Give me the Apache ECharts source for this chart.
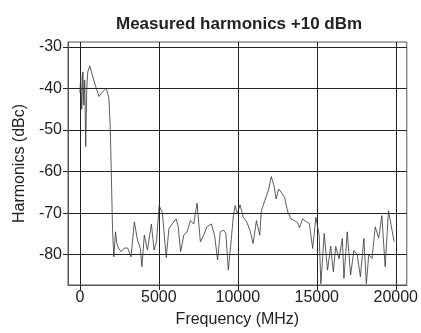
<!DOCTYPE html>
<html>
<head>
<meta charset="utf-8">
<script src="https://cdn.jsdelivr.net/npm/echarts@6/dist/echarts.min.js"></script>
<style>
  html, body { margin: 0; padding: 0; background: #fff; }
  #chart { width: 421px; height: 333px; }
</style>
</head>
<body>
<div id="chart"></div>
<script>
// measured trace
var freqs = [
  0, 60, 120, 190, 250, 310, 370, 440, 500, 630, 810, 1000, 1210, 1460, 1670, 1840, 1920, 1990, 2070,
  2150, 2260, 2340, 2460, 2620, 2820, 3030, 3240, 3450, 3650, 3830, 3930, 4080, 4280, 4530, 4700, 4850,
  5020, 5220, 5470, 5640, 5850, 6100, 6230, 6380, 6580, 6790, 7000, 7210, 7420, 7630, 7840, 8040, 8320,
  8530, 8720, 8890, 9090, 9240, 9400, 9570, 9720, 9830, 9970, 10140, 10350, 10550, 10770, 10970, 11180,
  11390, 11490, 11710, 11810, 11960, 12120, 12290, 12430, 12580, 12750, 12960, 13170, 13370, 13590,
  13790, 13900, 14110, 14310, 14530, 14740, 14940, 15150, 15260, 15470, 15680, 15880, 16050, 16200,
  16410, 16620, 16720, 16930, 17140, 17350, 17560, 17760, 17980, 18140, 18290, 18500, 18700, 18920,
  19120, 19330, 19540, 19710, 19900
]
var levels = [
  -41, -37, -45, -36, -44, -38, -54, -40, -36, -34.6, -37, -39.5, -41.9, -40.7, -39.9, -42.3, -49, -60, -74,
  -80.5, -74.5, -77.3, -78.5, -79.3, -78.4, -78.4, -80.5, -72.1, -76.5, -78.5, -82.9, -75.3, -78.9, -72.6, -78.9, -76.9,
  -68.2, -69.8, -80.7, -73.7, -72.6, -71.4, -73.3, -79.3, -75.3, -74.5, -71.8, -72.6, -67.6, -76.9, -75.3, -73.3, -72.6,
  -75.3, -81.3, -74.5, -74.1, -74.8, -83.7, -77, -70.6, -68.2, -70.2, -68, -71, -72, -74.1, -77.3, -71.8,
  -75.3, -69.4, -67, -67.4, -64.2, -61.2, -63.4, -66.6, -64.2, -65, -66.2, -69.8, -71.4, -71.8,
  -72.3, -73.5, -71.4, -72, -72.5, -78.5, -71, -75.3, -87, -74.9, -83.7, -78, -84.1, -78,
  -81, -76.1, -85.7, -74.5, -84.9, -79, -80, -85.3, -76.1, -87, -80, -80.9, -73.3, -76,
  -70.6, -82.9, -69.4, -73, -76.9
]
var xTicks = [0, 5000, 10000, 15000, 20000]
var yTicks = [-80, -70, -60, -50, -40, -30]

var points = freqs.map(function (f, i) { return [f, levels[i]] })

var chart = echarts.init(document.getElementById('chart'))
var font = 'Liberation Sans'
var option = {
  animation: false,
  backgroundColor: '#fff',
  title: {
    text: 'Measured harmonics +10 dBm',
    left: 111,
    top: 11,
    textStyle: { fontFamily: font, fontSize: 17, fontWeight: 'bold', color: '#222' }
  },
  grid: {
    left: 68, right: 10, top: 42, bottom: 46,
    show: true, borderColor: '#555', borderWidth: 1
  },
  xAxis: {
    type: 'value',
    min: -750,
    max: 20700,
    name: 'Frequency (MHz)',
    nameLocation: 'middle',
    nameGap: 27,
    nameTextStyle: { fontFamily: font, fontSize: 16, color: '#222' },
    axisLine: { show: true, onZero: false, lineStyle: { color: '#555' } },
    axisTick: { show: true, length: 5, customValues: xTicks, lineStyle: { color: '#222' } },
    axisLabel: {
      customValues: xTicks, margin: 5, fontFamily: font, fontSize: 16, color: '#222',
      formatter: function (v) { return String(v) }
    },
    splitLine: { show: true, lineStyle: { color: '#222', width: 1 } }
  },
  yAxis: {
    type: 'value',
    min: -87.3,
    max: -28.8,
    name: 'Harmonics (dBc)',
    nameLocation: 'middle',
    nameGap: 34,
    nameTextStyle: { fontFamily: font, fontSize: 16, color: '#222' },
    axisLine: { show: true, onZero: false, lineStyle: { color: '#555' } },
    axisTick: { show: true, length: 5, customValues: yTicks, lineStyle: { color: '#222' } },
    axisLabel: {
      customValues: yTicks, margin: 6, fontFamily: font, fontSize: 16, color: '#222',
      formatter: function (v) { return String(v) }
    },
    splitLine: { show: true, lineStyle: { color: '#222', width: 1 } }
  },
  series: [
    {
      type: 'line',
      data: points,
      showSymbol: false,
      lineStyle: { color: '#333', width: 0.8 }
    }
  ]
}
chart.setOption(option)
</script>
</body>
</html>
